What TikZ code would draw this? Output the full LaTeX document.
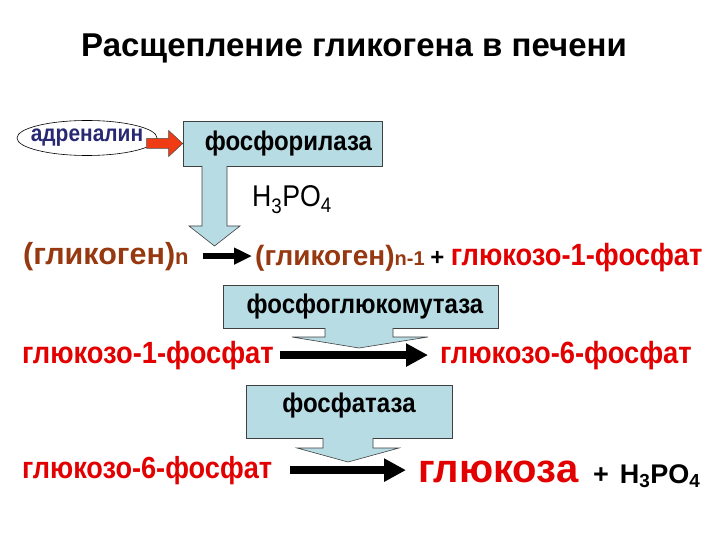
\documentclass[tikz,border=0pt]{standalone}
\usepackage{fontspec}
\setmainfont{Liberation Sans}
\newfontfamily\narrowfont{Liberation Sans}[FakeStretch=0.89]
\usetikzlibrary{shapes,arrows,positioning,calc,arrows.meta}
\definecolor{boxblue}{RGB}{184,220,228}
\definecolor{glybrown}{RGB}{150,56,16}
\definecolor{glured}{RGB}{226,0,0}
\definecolor{adrblue}{RGB}{40,40,115}
\definecolor{arrowred}{RGB}{240,60,20}
\newcommand{\fs}[1]{\fontsize{#1}{#1}\selectfont}

\begin{document}
\begin{tikzpicture}[x=1pt,y=-1pt,
    txt/.style={inner sep=0pt, anchor=base west},
    enzbox/.style={draw=black!75, fill=boxblue, line width=0.6pt, inner sep=0pt, font=\narrowfont\bfseries\fs{27}},
    enzline/.style={draw=black!75, line width=0.6pt},
    glutxt/.style={txt, text=glured, font=\narrowfont\bfseries\fs{30.7}},
    blkarrow/.style={line width=8pt, -{Triangle[length=22pt,width=22pt]}},
    ]
    \useasboundingbox (0,0) rectangle (720,540);
    % title
    \node (title) [anchor=base, font=\bfseries\fs{33}] at (354,57) {Расщепление гликогена в печени};

    % adrenaline activates phosphorylase
    \node (adr) [ellipse, draw, line width=0.6pt, minimum width=140pt, minimum height=35pt, inner sep=0pt, text=adrblue, font=\narrowfont\bfseries\fs{23.5}] at (87,138) {\makebox[0pt]{адреналин}};
    \node (fosf) [enzbox, minimum width=199pt, minimum height=45pt] at (282.5,143.5) {\hspace{12pt}фосфорилаза};
    \begin{scope}[shift={(fosf.west)}]
        \draw[draw=black!70, fill=arrowred, line width=0.5pt] (-36,-5) -- (-14,-5) -- (-14,-13) -- (0,0) -- (-14,13) -- (-14,5) -- (-36,5) -- cycle;
    \end{scope}
    \fill[boxblue] (202,165) -- (202,226) -- (189,226) -- (214.5,246) -- (240,226) -- (227,226) -- (227,165) -- cycle;
    \draw[enzline] (202,166) -- (202,226) -- (189,226) -- (214.5,246) -- (240,226) -- (227,226) -- (227,166);
    \node (acid) [txt, font=\narrowfont\fs{30}] at (252,207) {H\textsubscript{3}PO\textsubscript{4}};

    % glycogen row
    \node (gln) [txt, text=glybrown, font=\bfseries] at (23,264) {\fs{30.5}(гликоген)\fs{22}n};
    \node (gln1) [txt, font=\bfseries] at (255,265) {\color{glybrown}\fs{28}(гликоген)\fs{20}n-1\ \color{black}\fs{24}+ \color{glured}\narrowfont\fs{30.7}глюкозо-1-фосфат};
    \draw[line width=6pt, -{Triangle[length=18pt,width=16pt]}, shorten <=14pt, shorten >=3pt] (gln.east) -- (gln.east -| gln1.west);

    % phosphoglucomutase
    \node (mut) [enzbox, minimum width=275pt, minimum height=43pt] at (360.5,306.5) {\hspace{9pt}фосфоглюкомутаза};
    \fill[boxblue] (325,327) -- (325,337) -- (292,337) -- (359,348) -- (428,337) -- (393,337) -- (393,327) -- cycle;
    \draw[enzline] (325,328) -- (325,337) -- (292,337) -- (359,348) -- (428,337) -- (393,337) -- (393,328);
    \node (g1p) [glutxt] at (22,363) {глюкозо-1-фосфат};
    \node (g6p) [glutxt] at (440,363) {глюкозо-6-фосфат};
    \draw[blkarrow, shorten <=6pt, shorten >=12pt] (g1p.east) -- (g1p.east -| g6p.west);

    % phosphatase
    \node (fosfat) [enzbox, minimum width=206pt, minimum height=53pt, text height=12pt, text depth=11pt] at (349,411.5) {фосфатаза\hspace{10pt}};
    \fill[boxblue] (323,437) -- (323,448) -- (297,448) -- (348,462) -- (399,448) -- (373,448) -- (373,437) -- cycle;
    \draw[enzline] (323,438) -- (323,448) -- (297,448) -- (348,462) -- (399,448) -- (373,448) -- (373,438);
    \node (g6pb) [glutxt, font=\narrowfont\bfseries\fs{30.5}] at (22,478) {глюкозо-6-фосфат};
    \node (glc) [txt, text=glured, font=\bfseries\fs{40}] at (418,482) {глюкоза};
    \node (acid2) [txt, font=\bfseries\fs{27}] at (593,483) {+\hspace{11pt}H\textsubscript{3}PO\textsubscript{4}};
    \draw[blkarrow, shorten <=18pt, shorten >=12pt] (g6pb.east) -- (g6pb.east -| glc.west);
\end{tikzpicture}
\end{document}
